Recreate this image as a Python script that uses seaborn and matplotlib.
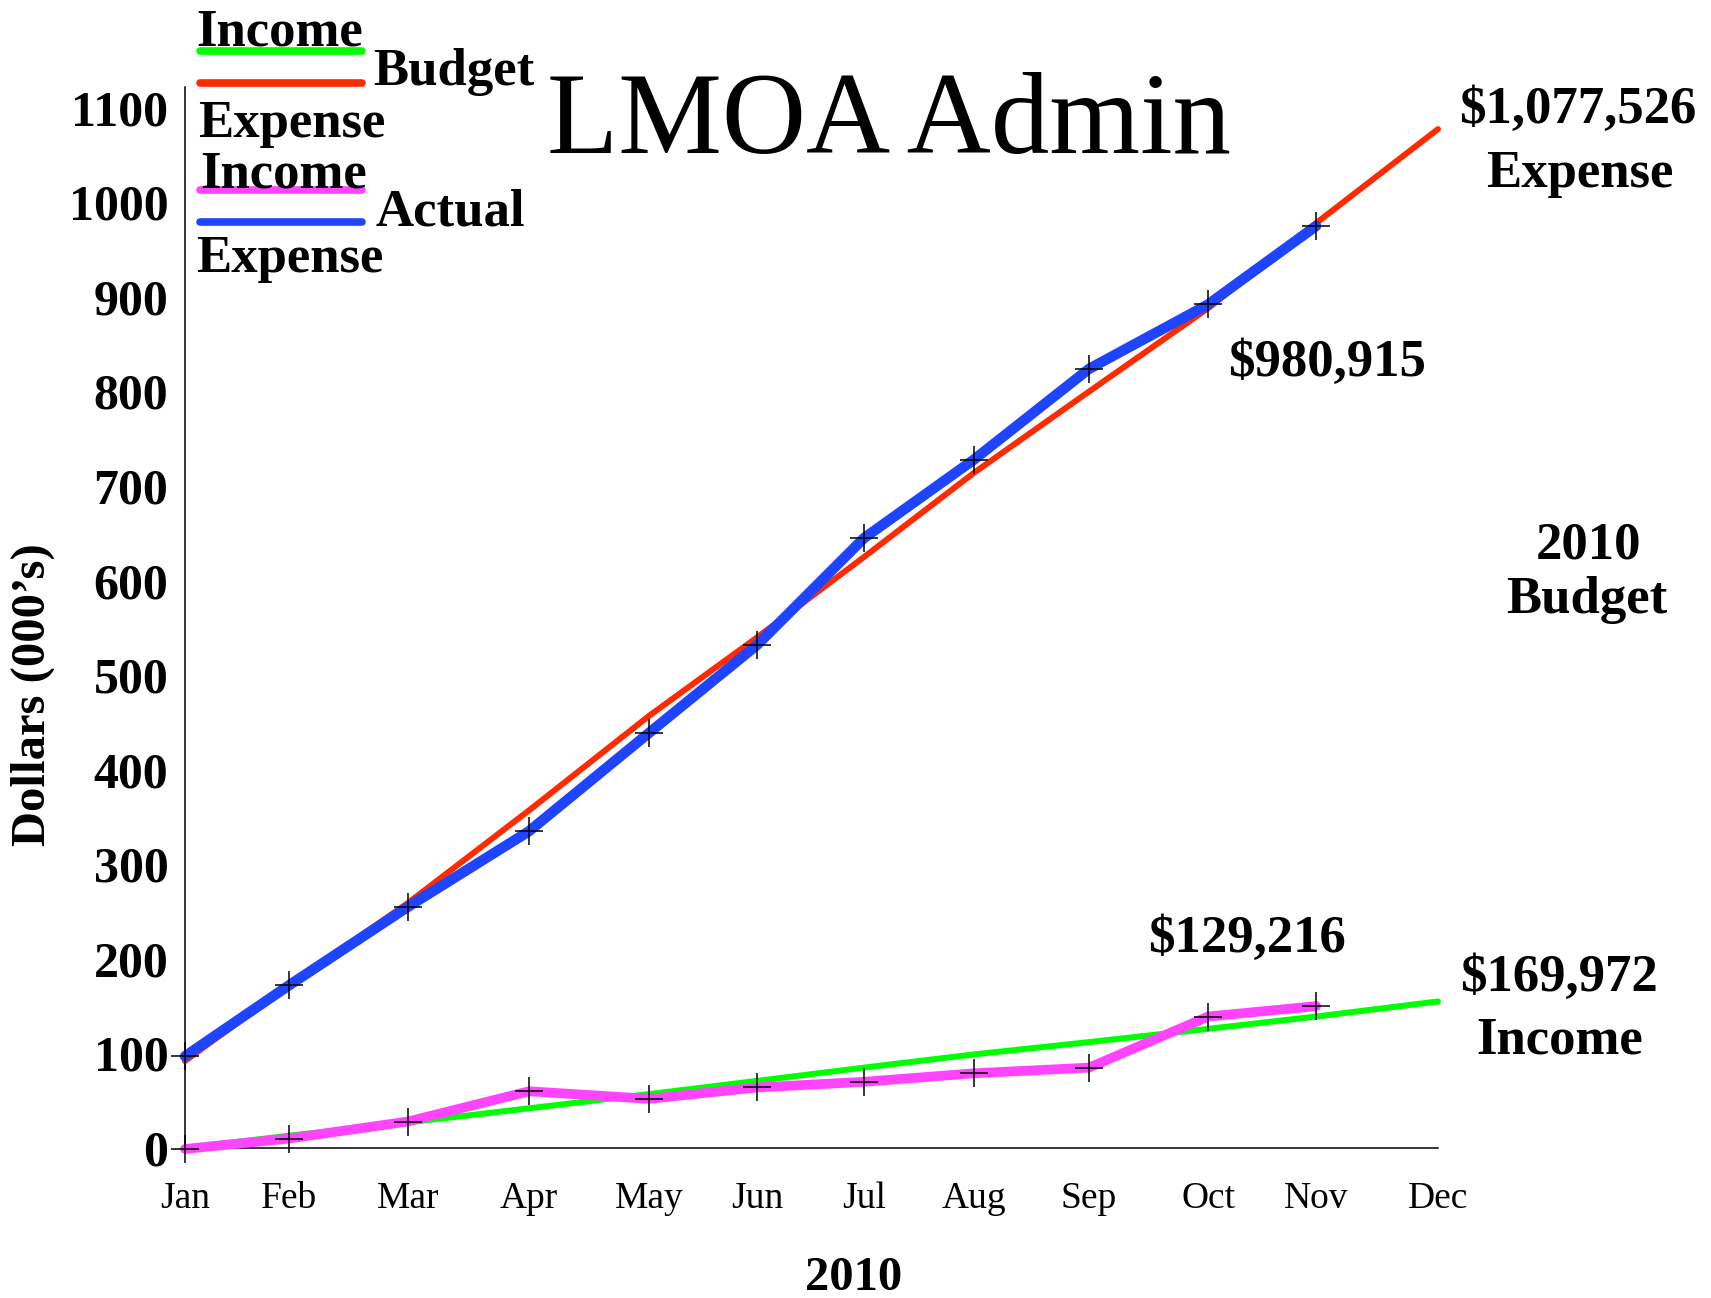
import matplotlib
matplotlib.use("Agg")
import matplotlib.pyplot as plt
from matplotlib.lines import Line2D
import pandas as pd
import seaborn as sns

# Month labels and the day-of-year each monthly report lands on
months = ['Jan', 'Feb', 'Mar', 'Apr', 'May', 'Jun',
          'Jul', 'Aug', 'Sep', 'Oct', 'Nov', 'Dec']
report_day = [0, 27.7, 59.4, 91.7, 123.7, 152.5, 181, 210.3, 241, 272.7, 301.5, 334]

# Cumulative dollars (000's)
budget_expense = [92, 172, 259, 357, 457, 540, 625, 714, 800, 888, 978, 1077.5]
budget_income = [0, 13, 27, 42, 57, 71, 85, 99, 112, 126, 139, 155]
actual_expense = [97, 172, 255, 335, 439, 532, 645, 728, 824, 892, 975]
actual_income = [-1, 10, 28, 60, 52, 64, 70, 79, 85, 139, 150]

GREEN = '#00ff00'
RED = '#ff2a00'
MAGENTA = '#ff44ff'
BLUE = '#1f44ff'

W, H = 1711, 1298


def fx(px):
    return px / W


def fy(py):
    return 1 - py / H


def main():
    sns.set_style('white')
    plt.rcParams['font.family'] = ['Liberation Serif', 'DejaVu Serif']
    plt.rcParams['text.color'] = 'black'
    plt.rcParams['xtick.color'] = 'black'
    plt.rcParams['ytick.color'] = 'black'
    plt.rcParams['axes.labelcolor'] = 'black'

    budget = pd.DataFrame({'day': report_day,
                           'expense': budget_expense,
                           'income': budget_income})
    n = len(actual_expense)
    actual = pd.DataFrame({'day': report_day[:n],
                           'expense': actual_expense,
                           'income': actual_income})

    fig = plt.figure(figsize=(W / 100, H / 100), dpi=100)
    ax = fig.add_axes([fx(185), fy(1148), fx(1438) - fx(185), fy(87) - fy(1148)])

    sns.lineplot(data=budget, x='day', y='expense', color=RED, linewidth=4.3,
                 ax=ax, clip_on=False, zorder=3)
    sns.lineplot(data=budget, x='day', y='income', color=GREEN, linewidth=4.3,
                 ax=ax, clip_on=False, zorder=3)
    cross = dict(marker='+', markersize=20, markeredgecolor='black',
                 markeredgewidth=1.1)
    sns.lineplot(data=actual, x='day', y='expense', color=BLUE, linewidth=7.5,
                 ax=ax, clip_on=False, zorder=4, **cross)
    sns.lineplot(data=actual, x='day', y='income', color=MAGENTA, linewidth=7,
                 ax=ax, clip_on=False, zorder=4, **cross)

    ax.set_xlim(report_day[0], report_day[-1])
    ax.set_ylim(0, 1122)
    ax.set_xticks(report_day)
    ax.set_xticklabels(months)
    ax.set_yticks(range(0, 1101, 100))
    ax.set_yticks([0], minor=True)

    sns.despine(ax=ax)
    for side in ['left', 'bottom']:
        ax.spines[side].set_color('black')
        ax.spines[side].set_linewidth(1.1)

    ax.tick_params(axis='x', direction='out', length=21, width=1.1,
                   color='black', labelcolor='black', pad=3, labelsize=27)
    ax.tick_params(axis='y', which='major', length=0, pad=12, labelsize=36,
                   labelcolor='black')
    ax.tick_params(axis='y', which='minor', direction='out', length=11,
                   width=1.1, color='black')
    for lbl in ax.get_yticklabels():
        lbl.set_fontweight('bold')

    ax.set_xlabel('')
    ax.set_ylabel('')
    fig.text(fx(33), fy(695), 'Dollars (000\u2019s)', rotation=90,
             ha='center', va='center', fontsize=35, fontweight='bold')
    fig.text(fx(854), fy(1290), '2010', ha='center', va='baseline',
             fontsize=35, fontweight='bold')

    # Title
    fig.text(fx(889), fy(153), 'LMOA Admin', ha='center', va='baseline',
             fontsize=84)

    # Hand-built legend, top left
    big = dict(fontsize=38, fontweight='bold', va='baseline')
    fig.text(fx(196), fy(45), 'Income', ha='left', **big)
    fig.text(fx(373), fy(85), 'Budget', ha='left', **big)
    fig.text(fx(198), fy(137), 'Expense', ha='left', **big)
    fig.text(fx(200), fy(187), 'Income', ha='left', **big)
    fig.text(fx(375), fy(225), 'Actual', ha='left', **big)
    fig.text(fx(196), fy(272), 'Expense', ha='left', **big)
    for py, col in [(51, GREEN), (83, RED), (190, MAGENTA), (222, BLUE)]:
        fig.add_artist(Line2D([fx(200), fx(362)], [fy(py), fy(py)],
                              color=col, linewidth=5.5,
                              transform=fig.transFigure))

    # End-of-line callouts
    fig.text(fx(1578), fy(123), '$1,077,526', ha='center', **big)
    fig.text(fx(1580), fy(187), 'Expense', ha='center', **big)
    fig.text(fx(1327), fy(376), '$980,915', ha='center', **big)
    fig.text(fx(1588), fy(559), '2010', ha='center', **big)
    fig.text(fx(1587), fy(613), 'Budget', ha='center', **big)
    fig.text(fx(1247), fy(952), '$129,216', ha='center', **big)
    fig.text(fx(1559), fy(991), '$169,972', ha='center', **big)
    fig.text(fx(1560), fy(1053), 'Income', ha='center', **big)

    fig.savefig('out.png', dpi=100)


if __name__ == "__main__":
    main()
